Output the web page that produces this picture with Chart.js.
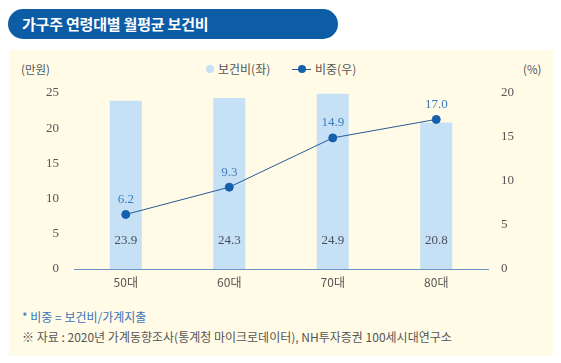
<!DOCTYPE html>
<html><head><meta charset="utf-8">
<script src="https://cdn.jsdelivr.net/npm/chart.js@4"></script>
<style>
html,body{margin:0;padding:0;background:#fff;width:561px;height:363px;overflow:hidden;font-family:"Noto Sans CJK KR","Noto Sans",sans-serif;}
#pill{position:absolute;left:8px;top:9px;width:330px;height:30px;border-radius:15px;background:#0d5ca6;}
#title{position:absolute;left:22px;top:9px;line-height:30px;color:#fff;font-weight:bold;font-size:15px;letter-spacing:-0.2px;}
#panel{position:absolute;left:9px;top:50px;width:544px;height:306px;background:#fffbe7;}
.t{position:absolute;white-space:nowrap;font-size:11.5px;color:#555;line-height:14px;}
canvas{position:absolute;left:0;top:0;}
</style></head><body>
<div id="pill"></div><div id="title">가구주 연령대별 월평균 보건비</div>
<div id="panel"></div>
<div class="t" style="left:21px;top:62px;">(만원)</div>
<div class="t" style="left:523px;top:62px;">(%)</div>
<div style="position:absolute;left:206px;top:65px;width:8px;height:8px;border-radius:4px;background:#c6e1f6;"></div>
<div class="t" style="left:218px;top:62px;font-size:12px;">보건비(좌)</div>
<div style="position:absolute;left:292px;top:68.5px;width:19px;height:1px;background:#2a5a93;"></div>
<div style="position:absolute;left:297.5px;top:65px;width:8px;height:8px;border-radius:4px;background:#1560ad;"></div>
<div class="t" style="left:315px;top:62px;font-size:12px;">비중(우)</div>
<div class="t" style="left:22px;top:310px;color:#3b73b9;font-size:12px;">* 비중 = 보건비/가계지출</div>
<div class="t" style="left:22px;top:330px;font-size:12px;">※ 자료 : 2020년 가계동향조사(통계청 마이크로데이터), NH투자증권 100세시대연구소</div>
<canvas id="c" width="561" height="363"></canvas>
<script>
const categories = ["50대","60대","70대","80대"];
const healthCost = [23.9, 24.3, 24.9, 20.8];
const shareRatio = [6.2, 9.3, 14.9, 17.0];
const leftTicks = [0,5,10,15,20,25];
const rightTicks = [0,5,10,15,20];

const labelPlugin = {
  id:'labels',
  afterDatasetsDraw(chart){
    const ctx = chart.ctx;
    ctx.save();
    ctx.font = '13px "Liberation Serif","DejaVu Serif",serif';
    ctx.textAlign = 'center';
    ctx.textBaseline = 'middle';
    const y0 = chart.scales.y.getPixelForValue(0);
    chart.getDatasetMeta(0).data.forEach((el,i)=>{
      ctx.fillStyle = '#4b4f5c';
      ctx.fillText(healthCost[i].toFixed(1), el.x, y0 - 28);
    });
    chart.getDatasetMeta(1).data.forEach((el,i)=>{
      ctx.fillStyle = '#3d7cbd';
      ctx.fillText(shareRatio[i].toFixed(1), el.x, el.y - 15);
    });
    ctx.restore();
  }
};

new Chart(document.getElementById('c'), {
  data:{
    labels: categories,
    datasets:[
      {type:'bar', data: healthCost, backgroundColor:'#c6e1f6', yAxisID:'y', barPercentage:0.31, categoryPercentage:1, order:2},
      {type:'line', data: shareRatio, yAxisID:'y1', borderColor:'#2a5a93', borderWidth:1, pointBackgroundColor:'#1560ad', pointBorderColor:'#1560ad', pointRadius:4, order:1}
    ]
  },
  options:{
    responsive:false, animation:false,
    layout:{padding:{top:93, bottom:64, left:0, right:0}},
    plugins:{legend:{display:false}, tooltip:{enabled:false}},
    scales:{
      x:{
        grid:{display:false, drawTicks:false},
        border:{display:true, color:'#6b92c2', width:1},
        ticks:{color:'#555', font:{size:12, family:'"Noto Sans CJK KR",sans-serif'}, padding:6},
        afterFit(s){ s.height = 30; }
      },
      y:{
        position:'left', min:0, max:25,
        afterBuildTicks(s){ s.ticks = leftTicks.map(v=>({value:v})); },
        grid:{display:false}, border:{display:false},
        ticks:{color:'#555', font:{size:13, family:'"Liberation Serif","DejaVu Serif",serif'}, padding:7},
        afterFit(s){ s.width = 74; }
      },
      y1:{
        position:'right', min:0, max:20,
        afterBuildTicks(s){ s.ticks = rightTicks.map(v=>({value:v})); },
        grid:{display:false}, border:{display:false},
        ticks:{color:'#555', font:{size:13, family:'"Liberation Serif","DejaVu Serif",serif'}, padding:5},
        afterFit(s){ s.width = 73; }
      }
    }
  },
  plugins:[labelPlugin]
});
</script>
</body></html>
